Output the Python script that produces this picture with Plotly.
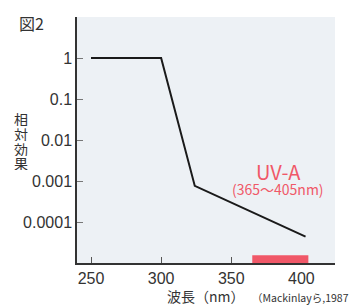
import plotly.graph_objects as go

wavelength = [250, 300, 324, 403]
effect = [1.0, 1.0, 7.6e-4, 4.4e-5]
uva_range = [365, 405]
x_ticks = [250, 300, 350, 400]
y_ticks = [1, 0.1, 0.01, 0.001, 0.0001]
y_tick_labels = ["1", "0.1", "0.01", "0.001", "0.0001"]
y_title_chars = ["相", "対", "効", "果"]

FONT = "Noto Sans CJK JP"
NUMFONT = "Liberation Sans, Arial, sans-serif"
RED = "#f05868"
TXT = "#333333"

W, H = 351, 306
pl, pr, pt, pb = 77, 16, 17, 43
pw, ph = W - pl - pr, H - pt - pb


def px(xp):
    return (xp - pl) / pw


def py(yp):
    return (H - pb - yp) / ph


fig = go.Figure()
fig.add_trace(go.Scatter(x=wavelength, y=effect, mode="lines",
                         line=dict(color="#1a1a1a", width=2), showlegend=False,
                         hoverinfo="skip"))

fig.add_shape(type="rect", xref="x", yref="paper",
              x0=uva_range[0], x1=uva_range[1], y0=0, y1=0.032,
              fillcolor=RED, line=dict(width=0), layer="above")

fig.update_layout(
    width=W, height=H,
    margin=dict(l=pl, r=pr, t=pt, b=pb, autoexpand=False),
    paper_bgcolor="white",
    plot_bgcolor="#edf1f5",
    font=dict(family=FONT, color=TXT, size=13),
    xaxis=dict(range=[240, 424], tickvals=x_ticks, ticks="inside", ticklen=6,
               tickcolor="#555555", tickwidth=1, showgrid=False, zeroline=False,
               showline=True, linecolor=TXT, linewidth=1.5, automargin=False,
               tickfont=dict(size=16, family=NUMFONT, color=TXT)),
    yaxis=dict(type="log", range=[-5, 1], tickvals=y_ticks, ticktext=y_tick_labels,
               ticks="inside", ticklen=6, tickcolor="#777777", tickwidth=1,
               showgrid=False, zeroline=False, showline=True, automargin=False,
               linecolor=TXT, linewidth=1.5,
               tickfont=dict(size=16, family=NUMFONT, color=TXT)),
)

fig.add_annotation(text="図2", x=px(17), y=py(23), xref="paper", yref="paper",
                   xanchor="left", yanchor="middle", showarrow=False,
                   font=dict(size=16, family=FONT, color=TXT))
for i, ch in enumerate(y_title_chars):
    fig.add_annotation(text=ch, x=px(20.5), y=py(119.5 + 14.5 * i), xref="paper", yref="paper",
                       xanchor="center", yanchor="middle", showarrow=False,
                       height=14, borderpad=0,
                       font=dict(size=14, family=FONT, color=TXT))
fig.add_annotation(text="UV-A", x=px(278), y=py(171), xref="paper", yref="paper",
                   xanchor="center", yanchor="middle", showarrow=False,
                   font=dict(size=20, family=FONT, color=RED))
fig.add_annotation(text="(365〜405nm)", x=px(278), y=py(189), xref="paper", yref="paper",
                   xanchor="center", yanchor="middle", showarrow=False,
                   font=dict(size=14, family=FONT, color=RED))
fig.add_annotation(text="波長（nm）", x=px(206), y=py(296), xref="paper", yref="paper",
                   xanchor="center", yanchor="middle", showarrow=False,
                   font=dict(size=14, family=FONT, color=TXT))
fig.add_annotation(text="（Mackinlayら,1987", x=px(250), y=py(297), xref="paper", yref="paper",
                   xanchor="left", yanchor="middle", showarrow=False,
                   font=dict(size=10.5, family=FONT, color=TXT))

fig.write_html("out.html", config={"displayModeBar": False},
               post_script="document.body.style.margin='0';document.body.style.padding='0';")
